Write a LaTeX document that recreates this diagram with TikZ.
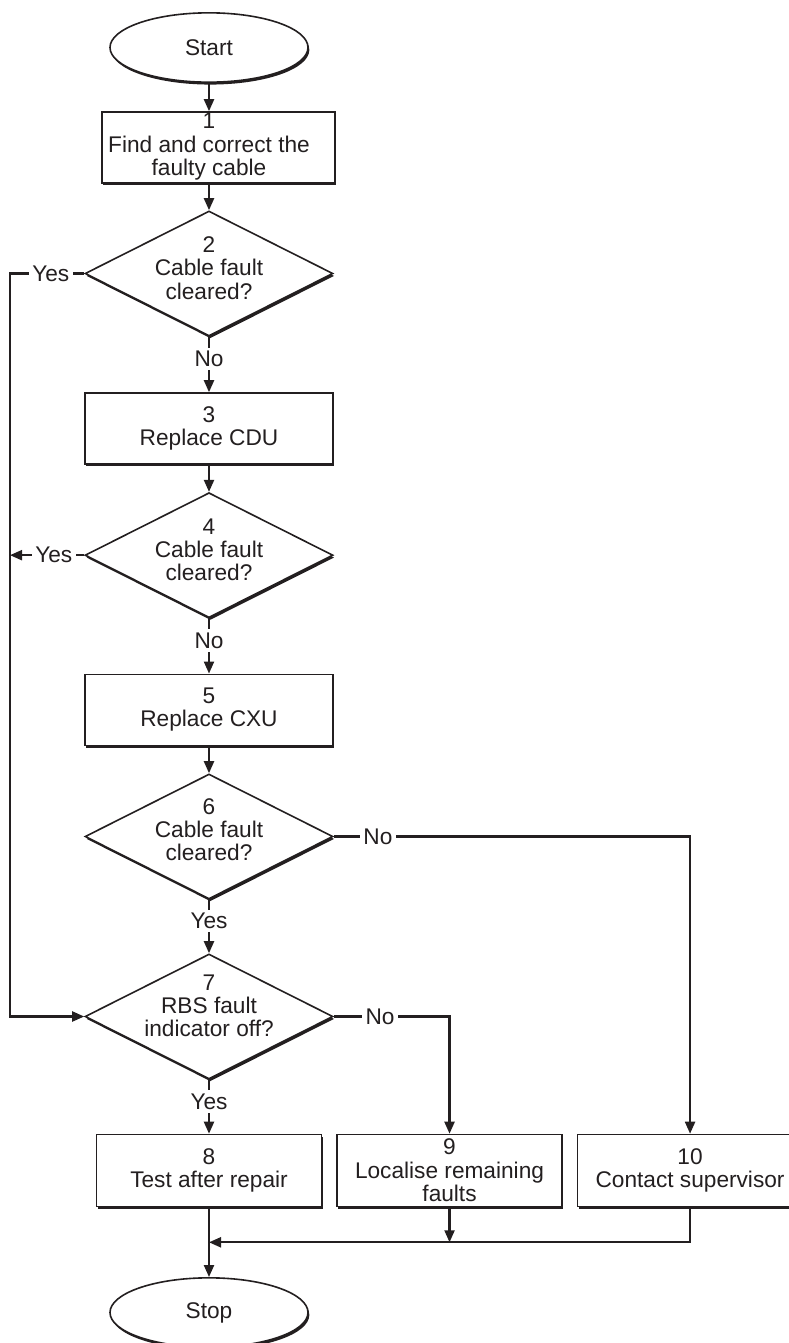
\documentclass[tikz,border=0pt]{standalone}
\usepackage{fontspec}
\setmainfont{Liberation Sans}
\usetikzlibrary{shapes.geometric,shadows,arrows.meta}
\definecolor{ink}{HTML}{231F20}

\tikzset{
  boxshadow/.style={drop shadow={shadow xshift=1pt, shadow yshift=-1.8pt, fill=ink, opacity=1}},
  terminal/.style={ellipse, draw=ink, line width=1.2pt, fill=white, boxshadow, minimum width=148.5pt, minimum height=52pt, inner sep=0pt},
  process/.style={rectangle, draw=ink, line width=1.2pt, fill=white, boxshadow, minimum width=186pt, minimum height=53.25pt, inner sep=0pt, align=center},
  decision/.style={diamond, draw=ink, line width=1.2pt, fill=white, boxshadow, minimum width=186pt, minimum height=93.75pt, inner sep=0pt},
  answer/.style={fill=white, inner sep=2.5pt},
  flow/.style={draw=ink, line width=1.6pt, -{Triangle[length=9pt,width=7.5pt]}}
}

\begin{document}
\begin{tikzpicture}[x=0.75pt, y=-0.75pt, font=\fontsize{17}{17.5}\selectfont, text=ink]
        \useasboundingbox (0,0) rectangle (789,1343);
        \coordinate (loop) at (10,0);

        \node (start) [terminal] at (209,47.5) {Start};
        \node (b1) [process, below of=start, node distance=75pt, xshift=7pt, minimum width=174.75pt]
            {\begin{tabular}{@{}c@{\hspace{14pt}}}1\\Find and correct the\\faulty cable\end{tabular}};
        \node (d2) [decision, below of=b1, node distance=94.5pt, xshift=-7pt,
            label={[align=center, yshift=4pt]center:2\\Cable fault\\cleared?}] {};
        \node (b3) [process, below of=d2, node distance=116.25pt] {3\\Replace CDU};
        \node (d4) [decision, below of=b3, node distance=95pt,
            label={[align=center, yshift=4pt]center:4\\Cable fault\\cleared?}] {};
        \node (b5) [process, below of=d4, node distance=116pt] {5\\Replace CXU};
        \node (d6) [decision, below of=b5, node distance=95pt,
            label={[align=center, yshift=5pt]center:6\\Cable fault\\cleared?}] {};
        \node (d7) [decision, below of=d6, node distance=135pt,
            label={[align=center, yshift=8pt]center:7\\RBS fault\\indicator off?}] {};
        \node (b8) [process, below of=d7, node distance=115.5pt, minimum width=168.75pt, minimum height=54pt] {8\\Test after repair};
        \node (b9) [process, right of=b8, node distance=180.4pt, minimum width=168.75pt, minimum height=54pt] {9\\Localise remaining\\faults};
        \node (b10) [process, right of=b9, node distance=180.4pt, minimum width=168.75pt, minimum height=54pt] {10\\Contact supervisor};
        \node (stop) [terminal, below of=b8, node distance=106.5pt] {Stop};
        \coordinate (merge) at ([yshift=-26.25pt]b8.south);

        \draw[flow] (start.south) -- (start.south |- b1.north);
        \draw[flow] (d2 |- b1.south) -- (d2.north);
        \draw[flow] (d2.south) -- node[answer, pos=0.4]{No} (b3.north);
        \draw[flow] (b3) -- (d4);
        \draw[flow] (d4.south) -- node[answer, pos=0.4]{No} (b5.north);
        \draw[flow] (b5) -- (d6);
        \draw[flow] (d6.south) -- node[answer, pos=0.4]{Yes} (d7.north);
        \draw[flow] (d7.south) -- node[answer, pos=0.4]{Yes} (b8.north);

        \draw[flow] (d2.west) -- node[answer, pos=0.45]{Yes} (d2.west -| loop) |- (d7.west);
        \draw[flow] (d4.west) -- node[answer, pos=0.41]{Yes} (d4.west -| loop);
        \draw[flow] (d6.east) -| node[answer, pos=0.062]{No} (b10.north);
        \draw[flow] (d7.east) -| node[answer, pos=0.2]{No} (b9.north);

        \draw[flow] (b8) -- (stop);
        \draw[flow] (b9) -- (b9 |- merge);
        \draw[flow] (b10) |- (merge);
    \end{tikzpicture}
\end{document}
